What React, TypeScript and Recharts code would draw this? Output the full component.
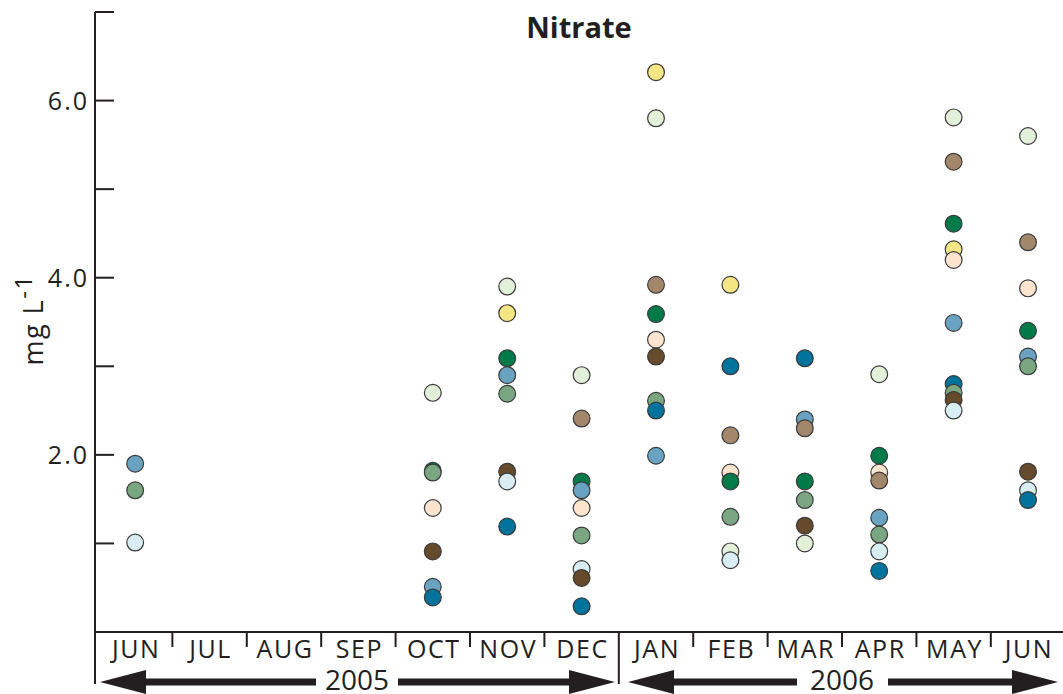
import React from 'react';
import { ScatterChart, Scatter, XAxis, YAxis } from 'recharts';

// Month categories (Jun 2005 – Jun 2006)
const months = ['JUN', 'JUL', 'AUG', 'SEP', 'OCT', 'NOV', 'DEC', 'JAN', 'FEB', 'MAR', 'APR', 'MAY', 'JUN'];
const yTicks = [1, 2, 3, 4, 5, 6, 7];
const yLabelled = [2, 4, 6];

// Nitrate (mg L-1) per site, one value per month (null = no sample)
const lightGreen = [null, null, null, null, 2.7, 3.9, 2.9, 5.8, 0.91, 1.0, 2.91, 5.81, 5.6];
const yellow = [null, null, null, null, null, 3.6, null, 6.32, 3.92, null, null, 4.32, null];
const darkGreen = [null, null, null, null, 1.82, 3.09, 1.7, 3.59, 1.7, 1.7, 1.99, 4.61, 3.4];
const steelBlue = [1.9, null, null, null, 0.51, 2.9, 1.6, 1.99, null, 2.4, 1.29, 3.49, 3.11];
const sage = [1.6, null, null, null, 1.8, 2.69, 1.09, 2.61, 1.3, 1.49, 1.1, 2.7, 3.0];
const tan = [null, null, null, null, null, null, 2.41, 3.92, 2.22, 2.3, 1.71, 5.31, 4.4];
const darkBrown = [null, null, null, null, 0.91, 1.81, 0.61, 3.11, null, 1.2, null, 2.62, 1.81];
const lightCyan = [1.01, null, null, null, null, 1.7, 0.71, null, 0.81, null, 0.91, 2.5, 1.6];
const peach = [null, null, null, null, 1.4, null, 1.4, 3.3, 1.8, null, 1.8, 4.2, 3.88];
const teal = [null, null, null, null, 0.39, 1.19, 0.29, 2.5, 3.0, 3.09, 0.69, 2.8, 1.49];

const seriesList: { values: (number | null)[]; color: string }[] = [
  { values: lightGreen, color: '#e3f0d9' },
  { values: yellow, color: '#f5e684' },
  { values: darkGreen, color: '#007a48' },
  { values: steelBlue, color: '#6aa3c1' },
  { values: sage, color: '#7aa682' },
  { values: tan, color: '#a3876a' },
  { values: darkBrown, color: '#654a2c' },
  { values: lightCyan, color: '#d8eef3' },
  { values: peach, color: '#fde4cf' },
  { values: teal, color: '#00739c' },
];

// Lower values are drawn on top of higher ones (as in the original)
const points = seriesList
  .flatMap((s) =>
    s.values
      .map((v, i) => (v === null ? null : { x: i, y: v, color: s.color }))
      .filter((p): p is { x: number; y: number; color: string } => p !== null)
  )
  .sort((a, b) => b.y - a.y);

const X_MIN = -0.54;
const X_MAX = 12.47;
const xTicks = [X_MIN, ...months.map((_, i) => i), ...months.slice(0, -1).map((_, i) => i + 0.5)].sort(
  (a, b) => a - b
);

const INK = '#231f20';
const FONT = '"Open Sans", "Noto Sans", sans-serif';

const Dot = (props: any) => {
  const { cx, cy, payload } = props;
  if (cx == null || cy == null) return null;
  return <circle cx={cx} cy={cy} r={8.4} fill={payload.color} stroke="#3a3a3a" strokeWidth={1.2} />;
};

const XTick = (props: any) => {
  const { x, y, payload } = props;
  const v = payload.value;
  if (Number.isInteger(v)) {
    return (
      <text x={x + 1} y={y + 26} textAnchor="middle" fontSize={25} letterSpacing={1.6} fill={INK} fontFamily={FONT}>
        {months[v]}
      </text>
    );
  }
  const long = v === 6.5 || v === X_MIN;
  return <line x1={x} x2={x} y1={y} y2={y + (long ? 52 : 15)} stroke={INK} strokeWidth={2} />;
};

const YTick = (props: any) => {
  const { x, y, payload } = props;
  const v = payload.value;
  const ax = x + 8;
  return (
    <g>
      <line x1={ax} x2={ax + 19} y1={y} y2={y} stroke={INK} strokeWidth={2} />
      {yLabelled.includes(v) && (
        <text x={x + 2} y={y + 9} textAnchor="end" fontSize={25} letterSpacing={2} fill={INK} fontFamily={FONT}>
          {v.toFixed(1)}
        </text>
      )}
    </g>
  );
};

const Arrow = ({ x1, x2, y }: { x1: number; x2: number; y: number }) => {
  const head = 46;
  const half = 12;
  return (
    <polygon
      points={`${x1},${y} ${x1 + head},${y - half} ${x1 + head},${y - 3.5} ${x2 - head},${y - 3.5} ${x2 - head},${y - half} ${x2},${y} ${x2 - head},${y + half} ${x2 - head},${y + 3.5} ${x1 + head},${y + 3.5} ${x1 + head},${y + half}`}
      fill={INK}
    />
  );
};

export default function App() {
  return (
    <div style={{ position: 'absolute', left: 0, top: 0, width: 1063, height: 694, background: '#fff' }}>
      <ScatterChart width={1063} height={694} margin={{ top: 12, right: 0, bottom: 0, left: 0 }}>
        <XAxis
          type="number"
          dataKey="x"
          domain={[X_MIN, X_MAX]}
          ticks={xTicks}
          interval={0}
          tickLine={false}
          tickSize={0}
          tickMargin={0}
          height={62}
          axisLine={{ stroke: INK, strokeWidth: 2 }}
          tick={<XTick />}
          allowDataOverflow
        />
        <YAxis
          type="number"
          dataKey="y"
          domain={[0, 7]}
          ticks={yTicks}
          interval={0}
          width={95}
          tickLine={false}
          tickSize={0}
          tickMargin={8}
          axisLine={{ stroke: INK, strokeWidth: 2 }}
          tick={<YTick />}
          allowDataOverflow
        />
        <Scatter data={points} shape={<Dot />} isAnimationActive={false} />
      </ScatterChart>
      <svg width={1063} height={694} style={{ position: 'absolute', left: 0, top: 0, pointerEvents: 'none' }}>
        <text x={579} y={38} textAnchor="middle" fontSize={29} fontWeight="bold" fill={INK} fontFamily={FONT}>
          Nitrate
        </text>
        <text
          transform="translate(43,320) rotate(-90)"
          textAnchor="middle"
          fontSize={27}
          letterSpacing={1.5}
          fill={INK}
          fontFamily={FONT}
        >
          mg L
          <tspan dy={-11} fontSize={24}>
            -1
          </tspan>
        </text>
        <Arrow x1={100} x2={615} y={682} />
        <rect x={316} y={670} width={82} height={24} fill="#fff" />
        <text x={357} y={690} textAnchor="middle" fontSize={28} fill={INK} fontFamily={FONT}>
          2005
        </text>
        <Arrow x1={628} x2={1058} y={682} />
        <rect x={797} y={670} width={91} height={24} fill="#fff" />
        <text x={842} y={690} textAnchor="middle" fontSize={28} fill={INK} fontFamily={FONT}>
          2006
        </text>
      </svg>
    </div>
  );
}
